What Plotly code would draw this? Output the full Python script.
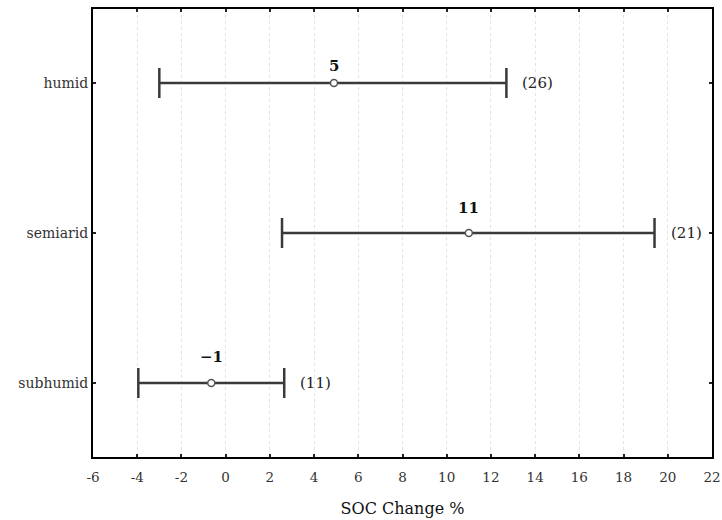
import plotly.graph_objects as go

categories = ["humid", "semiarid", "subhumid"]
means = [4.9, 11.0, -0.65]
lower = [-3.0, 2.55, -3.95]
upper = [12.7, 19.4, 2.65]
counts = [26, 21, 11]
mean_labels = ["5", "11", "\u22121"]
x_ticks = list(range(-6, 23, 2))
x_tick_labels = [str(v) for v in x_ticks]

label_yshift = [17, 25, 26]

FONT = "DejaVu Serif"
LINE = "#3a3a3a"

fig = go.Figure()
fig.add_trace(go.Scatter(
    x=means, y=categories, mode="markers",
    marker=dict(symbol="circle", size=7, color="white",
                line=dict(color="#555555", width=1.5)),
    error_x=dict(type="data", symmetric=False,
                 array=[u - m for u, m in zip(upper, means)],
                 arrayminus=[m - l for m, l in zip(means, lower)],
                 color=LINE, thickness=2.5, width=15),
    showlegend=False, hoverinfo="skip",
))

for cat, m, lab, ys in zip(categories, means, mean_labels, label_yshift):
    fig.add_annotation(x=m, y=cat, text=f"<b>{lab}</b>", showarrow=False,
                       yshift=ys, font=dict(family=FONT, size=15, color="#111111"),
                       xanchor="center", yanchor="middle")

for cat, u, n in zip(categories, upper, counts):
    fig.add_annotation(x=u, y=cat, text=f"({n})", showarrow=False,
                       xshift=14, xanchor="left", yanchor="middle",
                       font=dict(family=FONT, size=15, color="#222222"))

fig.update_layout(
    width=722, height=520,
    margin=dict(l=93, r=10, t=9, b=63, autoexpand=False),
    paper_bgcolor="white", plot_bgcolor="white",
    font=dict(family=FONT, size=14, color="#222222"),
)
fig.update_xaxes(
    range=[-6, 22], tickvals=x_ticks, ticktext=x_tick_labels,
    automargin=False,
    showgrid=True, gridcolor="#e2e2e2", gridwidth=1, griddash="dot",
    showline=True, linecolor="black", linewidth=2, mirror="ticks",
    ticks="inside", ticklen=3, tickwidth=1.5, tickcolor="#222222",
    zeroline=False, ticklabelstandoff=7,
    tickfont=dict(family=FONT, size=13.5, color="#333333"),
    title=dict(text="SOC Change %", font=dict(family=FONT, size=16, color="#111111"),
               standoff=19),
)
fig.update_yaxes(
    type="category", categoryorder="array", categoryarray=categories,
    range=[2.493, -0.493], automargin=False,
    showgrid=False, zeroline=False,
    showline=True, linecolor="black", linewidth=2, mirror="ticks",
    ticks="inside", ticklen=3, tickwidth=1.5, tickcolor="#222222",
    tickfont=dict(family=FONT, size=14, color="#333333"),
)

fig.write_html(
    "out.html",
    config={"displayModeBar": False},
    post_script="document.body.style.margin='0';document.body.style.overflow='hidden';",
)
